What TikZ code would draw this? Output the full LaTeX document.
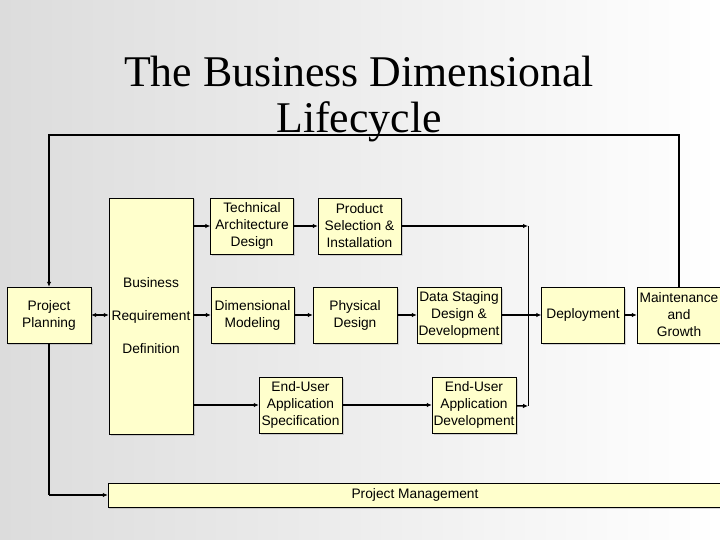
\documentclass[tikz,border=0pt]{standalone}
\usepackage{fontspec}
\setmainfont{Liberation Sans}
\newfontfamily\titlefont{Liberation Serif}
\usetikzlibrary{arrows.meta,shadows}
\definecolor{boxfill}{RGB}{255,255,204}
\definecolor{bgleft}{RGB}{220,220,220}

\begin{document}
\begin{tikzpicture}[x=1bp, y=-1bp,
        bx/.style={draw, fill=boxfill, minimum width=83bp, minimum height=56bp, inner sep=1bp, align=center,
            font=\fontsize{13.8}{17}\selectfont, drop shadow={shadow xshift=1.5bp, shadow yshift=-1.5bp, opacity=0.3}},
        fl/.style={-{Latex[length=5bp, width=4.5bp]}, line width=1.6bp},
        fb/.style={-{Latex[length=5bp, width=4.5bp]}, line width=1bp}]
        \useasboundingbox (0,0) rectangle (720,540);
        \clip (0,0) rectangle (720,540);
        \shade[left color=bgleft, right color=white] (0,0) rectangle (720,540);
        % Boxes
        \node[bx, minimum width=84bp] (pp) at (49,315) {Project\\Planning};
        \node[bx, minimum width=84bp, minimum height=236bp] (brd) at (151,316) {Business\\[16bp]Requirement\\[16bp]Definition};
        \node[bx] (tad) at (252,226) {Technical\\Architecture\\Design};
        \node[bx] (psi) at (359.5,226) {Product\\Selection \&\\Installation};
        \node[bx] (dm) at (252.5,315) {Dimensional\\Modeling};
        \node[bx, minimum width=84bp] (pd) at (355,315) {Physical\\Design};
        \node[bx, minimum width=84bp] (ds) at (459,315) {Data Staging\\Design \&\\Development};
        \node[bx] (dep) at (583,315) {Deployment};
        \node[bx, minimum width=84bp] (mg) at (679,315) {Maintenance\\and\\Growth};
        \node[bx] (euas) at (300.5,405) {End-User\\Application\\Specification};
        \node[bx, minimum width=84bp] (euad) at (474,405) {End-User\\Application\\Development};
        \node[bx, minimum width=614bp, minimum height=24bp] (pm) at (415,495) {Project Management};
        \coordinate (jna) at (528,226);
        \coordinate (jnb) at (528,406);
        \coordinate (fbtop) at (360,135);
        % Top track
        \draw[{Latex[length=5bp, width=4.5bp]}-{Latex[length=5bp, width=4.5bp]}, line width=1.6bp] (pp.east) -- (pp.east -| brd.west);
        \draw[fl] (brd.east |- tad) -- (tad);
        \draw[fl] (tad) -- (psi);
        \draw[fl] (psi) -- (jna);
        \draw[line width=1bp] (jna) -- (jnb);
        % Middle track
        \draw[fl] (brd.east |- dm) -- (dm);
        \draw[fl] (dm) -- (pd);
        \draw[fl] (pd) -- (ds);
        \draw[fl] (ds) -- (dep);
        \draw[fl] (dep) -- (mg);
        % Bottom track
        \draw[fl] (brd.east |- euas) -- (euas);
        \draw[fl] (euas) -- (euad);
        \draw[fl] (euad) -- (jnb);
        % Feedback and management
        \draw[line width=1.2bp] (mg.north) |- (fbtop);
        \draw[fb, line width=1.2bp] (fbtop) -| (pp.north);
        \draw[line width=1.2bp] (pp.south) |- (pp.south |- pm.west);
        \draw[fl] (pp.south |- pm.west) -- (pm.west);
        % Title
        \node[font=\titlefont\fontsize{44}{46}\selectfont, align=center] (title) at (359,99) {The Business Dimensional\\Lifecycle};
\end{tikzpicture}
\end{document}
